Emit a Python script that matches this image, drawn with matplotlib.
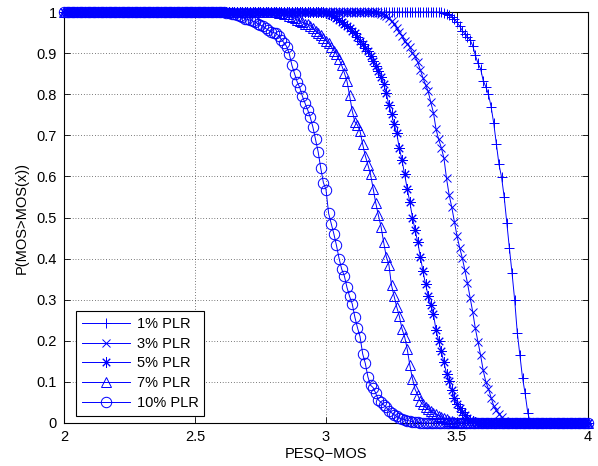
import numpy as np
import matplotlib
matplotlib.use('Agg')
import matplotlib.pyplot as plt

plt.rcParams['font.family'] = ['Liberation Sans', 'DejaVu Sans']

# grid of PESQ-MOS values the curves are sampled on
x = np.round(np.arange(2.0, 4.0001, 0.01), 2)

# each curve: first x where it leaves 1, then the values
# (1 before the start, 0 after the last value)
start_1 = 3.44
vals_1 = [1.0, 0.998, 0.996, 0.993, 0.988, 0.982, 0.975, 0.966, 0.955, 0.947,
          0.939, 0.932, 0.918, 0.895, 0.875, 0.862, 0.833, 0.818, 0.800, 0.770,
          0.730, 0.680, 0.630, 0.598, 0.550, 0.487, 0.425, 0.365, 0.300, 0.220,
          0.165, 0.110, 0.072, 0.025]

start_3 = 3.20
vals_3 = [0.998, 0.996, 0.993, 0.990, 0.986, 0.979, 0.970, 0.961, 0.951, 0.942,
          0.930, 0.922, 0.915, 0.900, 0.892, 0.878, 0.859, 0.840, 0.823, 0.807,
          0.780, 0.755, 0.715, 0.690, 0.670, 0.645, 0.595, 0.555, 0.525, 0.490,
          0.455, 0.427, 0.402, 0.372, 0.340, 0.305, 0.270, 0.230, 0.198, 0.165,
          0.128, 0.100, 0.083, 0.062, 0.042, 0.032, 0.022, 0.015, 0.006, 0.002]

start_5 = 2.99
vals_5 = [0.999, 0.998, 0.996, 0.993, 0.990, 0.986, 0.981, 0.976, 0.972, 0.966,
          0.961, 0.955, 0.948, 0.940, 0.930, 0.923, 0.913, 0.905, 0.893, 0.880,
          0.868, 0.856, 0.843, 0.825, 0.803, 0.773, 0.752, 0.727, 0.705, 0.668,
          0.640, 0.605, 0.570, 0.537, 0.500, 0.470, 0.440, 0.405, 0.370, 0.337,
          0.310, 0.288, 0.265, 0.226, 0.200, 0.175, 0.148, 0.120, 0.102, 0.080,
          0.062, 0.045, 0.036, 0.027, 0.020, 0.012, 0.008, 0.005, 0.002]

start_7 = 2.81
vals_7 = [0.999, 0.998, 0.997, 0.996, 0.994, 0.991, 0.988, 0.985, 0.981, 0.978,
          0.975, 0.972, 0.970, 0.967, 0.960, 0.955, 0.949, 0.943, 0.937, 0.930,
          0.924, 0.916, 0.906, 0.898, 0.885, 0.870, 0.852, 0.832, 0.797, 0.760,
          0.733, 0.725, 0.710, 0.678, 0.650, 0.628, 0.605, 0.570, 0.535, 0.505,
          0.478, 0.440, 0.405, 0.385, 0.335, 0.308, 0.282, 0.260, 0.229, 0.210,
          0.180, 0.140, 0.108, 0.082, 0.068, 0.053, 0.045, 0.038, 0.033, 0.028,
          0.025, 0.022, 0.018, 0.015, 0.012, 0.009, 0.006, 0.004, 0.002]

start_10 = 2.61
vals_10 = [0.999, 0.998, 0.997, 0.996, 0.994, 0.992, 0.990, 0.987, 0.984, 0.982,
           0.980, 0.978, 0.975, 0.972, 0.968, 0.965, 0.960, 0.956, 0.952, 0.950,
           0.948, 0.942, 0.933, 0.925, 0.916, 0.898, 0.870, 0.850, 0.830, 0.816,
           0.795, 0.778, 0.762, 0.744, 0.720, 0.690, 0.660, 0.620, 0.585, 0.568,
           0.510, 0.485, 0.460, 0.432, 0.400, 0.374, 0.358, 0.330, 0.308, 0.290,
           0.258, 0.232, 0.210, 0.168, 0.145, 0.112, 0.092, 0.086, 0.072, 0.056,
           0.050, 0.044, 0.038, 0.030, 0.025, 0.020, 0.016, 0.012, 0.010, 0.008,
           0.006, 0.005, 0.003, 0.002, 0.002, 0.001]

labels = ['1% PLR', '3% PLR', '5% PLR', '7% PLR', '10% PLR']
# '*' in the original is an 8-arm asterisk, not a star
markers = ['+', 'x', (8, 2, 0), '^', 'o']
sizes = [7.5, 5.5, 7.5, 7.5, 7.5]
xticks = [2, 2.5, 3, 3.5, 4]
xticklabels = ['2', '2.5', '3', '3.5', '4']
yticks = [0, 0.1, 0.2, 0.3, 0.4, 0.5, 0.6, 0.7, 0.8, 0.9, 1]
yticklabels = ['0', '0.1', '0.2', '0.3', '0.4', '0.5', '0.6', '0.7', '0.8', '0.9', '1']


def full_curve(start, vals):
    n_before = int(round((start - x[0]) / 0.01))
    n_after = len(x) - n_before - len(vals)
    return np.concatenate([np.ones(n_before), vals, np.zeros(n_after)])


curves = [full_curve(start_1, vals_1), full_curve(start_3, vals_3),
          full_curve(start_5, vals_5), full_curve(start_7, vals_7),
          full_curve(start_10, vals_10)]

fig = plt.figure(figsize=(5.98, 4.66), dpi=100)
ax = fig.add_axes([0.107, 0.0923, 0.8763, 0.8819])

for y, lab, m, ms in zip(curves, labels, markers, sizes):
    ax.plot(x, y, color='b', lw=0.7, marker=m, markersize=ms,
            markerfacecolor='none', markeredgewidth=0.7,
            label=lab, clip_on=False, zorder=3)

ax.set_xlim(2, 4)
ax.set_ylim(0, 1)
ax.set_xticks(xticks)
ax.set_xticklabels(xticklabels)
ax.set_yticks(yticks)
ax.set_yticklabels(yticklabels)
ax.tick_params(direction='in', length=4, width=0.6, top=True, right=True,
               labelsize=10.5, pad=5)
for s in ax.spines.values():
    s.set_linewidth(0.8)
ax.grid(True, color='k', linestyle=(0, (1, 3)), linewidth=0.5)

ax.set_xlabel('PESQ\u2212MOS', fontsize=10.5, labelpad=2)
ax.set_ylabel('P(MOS>MOS(x))', fontsize=10.5, labelpad=6)

leg = ax.legend(loc='lower left', bbox_to_anchor=(0.0229, 0.0178),
                borderaxespad=0, fancybox=False, framealpha=1,
                edgecolor='k', fontsize=10.5, numpoints=1,
                handlelength=3.3, labelspacing=0.4, borderpad=0.38,
                handletextpad=0.5)
leg.get_frame().set_linewidth(0.8)

fig.savefig('out.png', dpi=100)
